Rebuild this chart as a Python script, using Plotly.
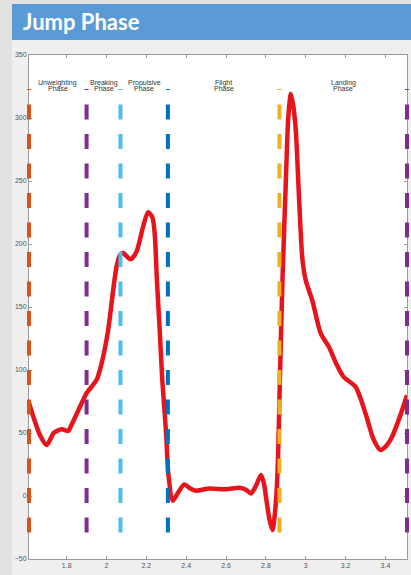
import plotly.graph_objects as go

# ---- data ----
time_s = [1.611, 1.633, 1.666, 1.70, 1.735, 1.775, 1.807, 1.817, 1.867, 1.90, 1.95, 1.975,
          2.008, 2.033, 2.05, 2.067, 2.083, 2.12, 2.15, 2.183, 2.208, 2.23, 2.242, 2.253,
          2.267, 2.28, 2.292, 2.30, 2.31, 2.333, 2.36, 2.39, 2.42, 2.45, 2.517, 2.6, 2.667,
          2.70, 2.725, 2.75, 2.775, 2.79, 2.80, 2.817, 2.833, 2.85, 2.858, 2.863, 2.870,
          2.883, 2.90, 2.912, 2.925, 2.937, 2.95, 2.967, 2.983, 3.0, 3.033, 3.075, 3.117,
          3.15, 3.19, 3.25, 3.30, 3.34, 3.375, 3.405, 3.433, 3.47, 3.508]
force = [74, 62.8, 48.3, 40.5, 50, 53, 51.5, 54, 70.8, 81.6, 92, 105,
         131.5, 163, 181.7, 191, 192.8, 187.8, 193.6, 213.4, 225.3, 221.3, 208, 171,
         131.5, 92, 65.7, 47, 18, -3.7, 3, 9.2, 6, 4.2, 6, 5.3, 6.6,
         5, 2, 8, 16.6, 10, -0.5, -18, -27, -5, 18, 44, 92,
         171, 250, 300, 319, 310, 290, 234, 188, 171, 155, 129, 118,
         106, 94.5, 86.6, 65.5, 45, 36.5, 40, 47, 62, 80]

phase_times = [1.611, 1.90, 2.07, 2.308, 2.868, 3.508]
phase_colors = ["#D95319", "#7E2F8E", "#4DBEEE", "#0072BD", "#EDB120", "#7E2F8E"]
phase_line_range = [-29, 323]

phase_names_1 = ["Unweighting", "Breaking", "Propulsive", "Flight", "Landing"]
phase_names_2 = ["Phase", "Phase", "Phase", "Phase", "Phase"]

x_ticks = [1.8, 2.0, 2.2, 2.4, 2.6, 2.8, 3.0, 3.2, 3.4]
x_tick_labels = ["1.8", "2", "2.2", "2.4", "2.6", "2.8", "3", "3.2", "3.4"]
y_ticks = [-50, 0, 50, 100, 150, 200, 250, 300, 350]
x_range = [1.611, 3.508]
y_range = [-50, 350]

title_text = "Jump Phase"

# ---- layout geometry (pixels) ----
W, H = 411, 575
ml, mr, mt, mb = 27, 2, 55, 16      # paper margins
ext = 2                              # extra px each side for the phase-line overlay
pw, ph = W - ml - mr, H - mt - mb
dom = [ext / pw, 1 - ext / pw]
px_per_unit = (pw - 2 * ext) / (x_range[1] - x_range[0])
x2_range = [x_range[0] - ext / px_per_unit, x_range[1] + ext / px_per_unit]


def fx(px):
    return (px - ml) / pw


def fy(py):
    return (H - mb - py) / ph


fig = go.Figure()

fig.add_trace(go.Scatter(
    x=time_s, y=force, mode="lines", xaxis="x", yaxis="y",
    line=dict(color="#e8141b", width=4.5, shape="spline", smoothing=0.7),
    hoverinfo="skip", showlegend=False,
))

for t, c in zip(phase_times, phase_colors):
    fig.add_trace(go.Scatter(
        x=[t, t], y=phase_line_range, mode="lines", xaxis="x2", yaxis="y",
        line=dict(color=c, width=4, dash="15px,14.5px"),
        hoverinfo="skip", showlegend=False,
    ))

tfont = dict(family="Liberation Sans, Arial", size=7, color="#333")
annotations = []
for i, (n1, n2) in enumerate(zip(phase_names_1, phase_names_2)):
    xc = (phase_times[i] + phase_times[i + 1]) / 2
    annotations.append(dict(x=xc, y=327.5, xref="x", yref="y", text=n1,
                            showarrow=False, font=tfont))
    annotations.append(dict(x=xc, y=323.5, xref="x", yref="y", text=n2,
                            showarrow=False, font=tfont))

annotations.append(dict(x=fx(21), y=fy(21), xref="paper", yref="paper",
                        text="<b>" + title_text + "</b>",
                        showarrow=False, xanchor="left", yanchor="middle",
                        font=dict(family="Lato, Open Sans", size=22, color="white")))

shapes = [
    dict(type="rect", xref="paper", yref="paper", x0=fx(12), x1=fx(W), y0=fy(H), y1=fy(40),
         fillcolor="#efefef", line=dict(width=0), layer="below"),
    dict(type="rect", xref="paper", yref="paper", x0=fx(12), x1=fx(W), y0=fy(40), y1=fy(4),
         fillcolor="#5b9bd5", line=dict(width=0), layer="below"),
    dict(type="rect", xref="x domain", yref="y domain", x0=0, x1=1, y0=0, y1=1,
         fillcolor="white", line=dict(width=0), layer="below"),
]

axfont = dict(family="Liberation Sans, Arial", size=7, color="#555")
fig.update_layout(
    width=W, height=H,
    margin=dict(l=ml, r=mr, t=mt, b=mb, pad=0),
    paper_bgcolor="#e2e2e2",
    plot_bgcolor="rgba(0,0,0,0)",
    shapes=shapes,
    annotations=annotations,
    showlegend=False,
    xaxis=dict(domain=dom, range=x_range, tickvals=x_ticks, ticktext=x_tick_labels,
               showgrid=False, zeroline=False, showline=True, linecolor="#9a9a9a", linewidth=1,
               mirror="ticks", ticks="inside", ticklen=3, tickcolor="#9a9a9a",
               tickfont=axfont, anchor="y"),
    xaxis2=dict(domain=[0, 1], range=x2_range, visible=False, anchor="y"),
    yaxis=dict(domain=[0, 1], range=y_range, tickvals=y_ticks, anchor="x",
               showgrid=False, zeroline=False, showline=True, linecolor="#9a9a9a", linewidth=1,
               mirror="ticks", ticks="inside", ticklen=3, tickcolor="#9a9a9a",
               tickfont=axfont),
)

fig.write_html("out.html")
